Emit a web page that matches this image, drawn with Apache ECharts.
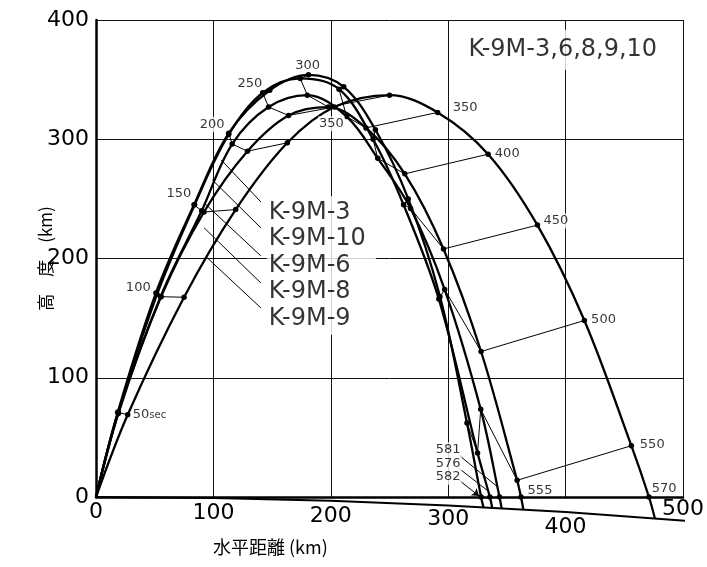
<!DOCTYPE html>
<html><head><meta charset="utf-8">
<script src="https://cdn.jsdelivr.net/npm/echarts@6/dist/echarts.min.js"></script>
<style>html,body{margin:0;padding:0;background:#fff}#c{width:707px;height:567px}</style>
</head><body><div id="c"></div>
<script>
// ---- axes ----
const xTicks = [0, 100, 200, 300, 400, 500];
const yTicks = [0, 100, 200, 300, 400];

// ---- time marks (sec) shared by the isochrones ----
const times = [0, 50, 100, 150, 200, 250, 300, 350, 400, 450, 500, 550];

// ---- trajectories: positions at each time mark (km) ----
const k9m3X  = [0, 18.5, 51, 83.5, 113, 148, 181, 211, 238, 266, 293, 316];
const k9m3Y  = [0, 71, 171, 245, 305, 341, 354, 344, 308, 250, 168, 62];
const k9m3Land = [328, 0, 582];
const k9m3Ground = [330, -8.5];

const k9m10X = [0, 19, 52, 84, 113, 142, 174, 207, 236, 262, 292, 325];
const k9m10Y = [0, 71, 170, 245, 304, 339, 351, 342, 300, 245, 166, 37];
const k9m10Land = [335.5, 0, 576];
const k9m10Ground = [337.5, -9];

const k9m6X  = [0, 19, 55, 90, 116, 147, 180, 213.5, 240, 268, 297, 327.7];
const k9m6Y  = [0, 70, 168, 240, 296, 327, 337, 319, 284, 242, 174, 73.5];
const k9m6Land = [343.7, 0, 581];
const k9m6Ground = [345.5, -9.4];

const k9m8X  = [0, 19, 55.5, 92, 129, 164, 198, 230, 263, 296, 328, 358.7];
const k9m8Y  = [0, 71, 168, 239, 290, 320, 327, 309.5, 271, 208, 122, 14];
const k9m8Land = [362, 0, 555];
const k9m8Ground = [364, -10.4];

const k9m9X  = [0, 27, 75, 119, 163, 203, 250, 291, 334, 376, 416, 456];
const k9m9Y  = [0, 69, 167.5, 241, 297, 327, 337, 322.5, 287.5, 228, 148, 43];
const k9m9Land = [471, 0, 570];
const k9m9Ground = [476, -17.8];

// ---- ground (earth surface) ----
const groundX = [0, 100, 200, 300, 400, 517];
const groundY = [0, -0.8, -3.1, -7.1, -12.6, -21];

// ---- rocket names and leader lines ----
const rocketNames = ['K-9M-3', 'K-9M-10', 'K-9M-6', 'K-9M-8', 'K-9M-9'];
const leaderFromX = [106.6, 99, 92.1, 92.1, 94.8];
const leaderFromY = [282.7, 266, 246.6, 225.7, 200.5];
const leaderToX   = [140.4, 140.4, 140.4, 140.4, 140.4];
const leaderToY   = [247.5, 225.7, 202.2, 179.5, 158.6];

// ---- time labels ----
const timeLabelText = ['100', '150', '200', '250', '300', '350', '350', '400', '450', '500', '550', '570', '555'];
const timeLabelX    = [36, 70.6, 99, 131, 180.2, 200.5, 314.5, 350.3, 391.7, 432.3, 473.8, 483.9, 378.2];
const timeLabelY    = [175.8, 254.2, 312.5, 346.9, 361.6, 312.9, 326.3, 287.8, 231.5, 148.5, 43.6, 6.7, 5];
const timeLabelBg   = [0, 0, 1, 0, 0, 1, 0, 0, 1, 0, 0, 0, 0];

const impactLabels = ['581', '576', '582'];
const impactLeaderFrom = [[309, 35.2], [309, 24.1], [309, 14.3]];
const impactLeaderTo   = [[341.8, 8.7], [334.8, 4.4], [326.3, 0.8]];

const FONT = 'DejaVu Sans';
const rockets = [
  {x: k9m3X, y: k9m3Y, land: k9m3Land, ground: k9m3Ground},
  {x: k9m10X, y: k9m10Y, land: k9m10Land, ground: k9m10Ground},
  {x: k9m6X, y: k9m6Y, land: k9m6Land, ground: k9m6Ground},
  {x: k9m8X, y: k9m8Y, land: k9m8Land, ground: k9m8Ground},
  {x: k9m9X, y: k9m9Y, land: k9m9Land, ground: k9m9Ground}
];

const series = [];
// ground
series.push({
  type: 'line', clip: false, silent: true, symbol: 'none', z: 3,
  data: groundX.map((v, i) => [v, groundY[i]]),
  lineStyle: {color: '#000', width: 2}
});
// trajectories
rockets.forEach((r, k) => {
  const data = r.x.map((v, i) => ({value: [v, r.y[i]], symbol: i === 0 ? 'none' : 'circle'}));
  data.push({value: [r.land[0], r.land[1]], symbol: 'circle'});
  data.push({value: [r.ground[0], r.ground[1]], symbol: 'none'});
  series.push({
    type: 'line', name: rocketNames[k], clip: false, smooth: 0.35, z: 4,
    data: data, symbolSize: 5.5, showSymbol: true,
    itemStyle: {color: '#000'},
    lineStyle: {color: '#000', width: 2.3}
  });
});
// isochrones
for (let i = 1; i < times.length; i++) {
  series.push({
    type: 'line', clip: false, symbol: 'none', z: 3, silent: true,
    data: rockets.map(r => [r.x[i], r.y[i]]),
    lineStyle: {color: '#000', width: 1}
  });
}
// leaders
for (let k = 0; k < leaderFromX.length; k++) {
  series.push({
    type: 'line', clip: false, symbol: 'none', z: 3, silent: true,
    data: [[leaderFromX[k], leaderFromY[k]], [leaderToX[k], leaderToY[k]]],
    lineStyle: {color: '#000', width: 1}
  });
}
// impact leaders
series.push({
  type: 'line', clip: false, symbol: 'none', data: [], silent: true,
  markLine: {
    silent: true, symbol: ['none', 'none'], animation: false,
    label: {show: false},
    lineStyle: {color: '#000', width: 1, type: 'solid'},
    data: impactLeaderFrom.map((p, i) => [
      {coord: p}, {coord: impactLeaderTo[i], symbol: i === 2 ? 'arrow' : 'none', symbolSize: 7}
    ])
  }
});
// labels
const labelData = timeLabelText.map((t, i) => ({
  value: [timeLabelX[i], timeLabelY[i]], name: t,
  label: timeLabelBg[i] ? {backgroundColor: '#fff', padding: [1, 1]} : {}
}));
labelData.push({value: [31.3, 68.8], name: '{a|50}{b|sec}', label: {align: 'left'}});
labelData.push({value: [145.5, 194.2], name: rocketNames.join('\n'),
  label: {align: 'left', fontSize: 24, lineHeight: 26.5, backgroundColor: '#fff', padding: [3, 10, 3, 2]}});
labelData.push({value: [397.6, 375], name: 'K-9M-3,6,8,9,10',
  label: {fontSize: 24, backgroundColor: '#fff', padding: [8, 4]}});
labelData.push({value: [288.5, 28], name: impactLabels.join('\n'),
  label: {align: 'left', lineHeight: 13.5, backgroundColor: '#fff', padding: [1, 1]}});
series.push({
  type: 'scatter', clip: false, symbolSize: 0, z: 10, silent: true,
  data: labelData,
  label: {
    show: true, position: 'inside', formatter: '{b}', color: '#000',
    fontFamily: FONT, fontSize: 13, align: 'center', verticalAlign: 'middle',
    rich: {a: {fontFamily: FONT, fontSize: 13, color: '#000'}, b: {fontFamily: FONT, fontSize: 10, color: '#000'}}
  }
});

const xPad = {0: 3, 100: 4, 200: 7, 300: 10, 400: 18, 500: 0};
const xRich = {};
xTicks.forEach(v => { xRich['p' + v] = {padding: [xPad[v], 0, 0, 0], fontFamily: FONT, fontSize: 22, color: '#000'}; });

const chart = echarts.init(document.getElementById('c'));
chart.setOption({
  animation: false,
  backgroundColor: '#fff',
  grid: {left: 96, right: 20, top: 20, bottom: 70, containLabel: false},
  xAxis: {
    type: 'value', min: xTicks[0], max: xTicks[xTicks.length - 1], interval: 100,
    axisLine: {show: true, onZero: false, lineStyle: {color: '#000', width: 2.5}},
    axisTick: {show: false},
    splitLine: {show: true, lineStyle: {color: '#111', width: 1}},
    axisLabel: {margin: 1, formatter: v => '{p' + v + '|' + v + '}', rich: xRich}
  },
  yAxis: {
    type: 'value', min: yTicks[0], max: yTicks[yTicks.length - 1], interval: 100,
    axisLine: {show: true, lineStyle: {color: '#000', width: 2.5}},
    axisTick: {show: false},
    splitLine: {show: true, lineStyle: {color: '#111', width: 1}},
    axisLabel: {margin: 7, fontFamily: FONT, fontSize: 22, color: '#000'},
    name: '高\u3000度\u3000(km)', nameLocation: 'middle', nameGap: 42, nameRotate: 90,
    nameMoveOverlap: false,
    nameTextStyle: {fontFamily: 'Noto Sans CJK JP', fontSize: 17, color: '#000'}
  },
  graphic: [{
    type: 'text', left: 213, top: 538, silent: true,
    style: {text: '水平距離 (km)', font: '18px "Noto Sans CJK JP"', fill: '#000'}
  }],
  series: series
});
</script></body></html>
